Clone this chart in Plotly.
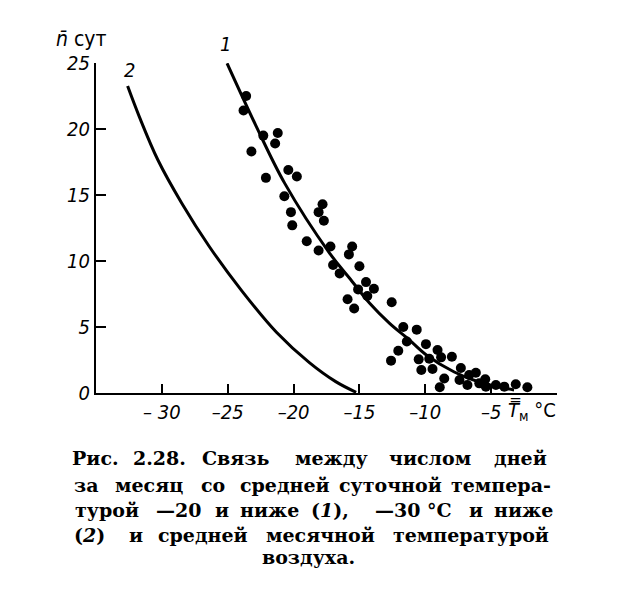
import plotly.graph_objects as go

# observed points (mean monthly temperature, days with daily mean <= -20)
obs_t = [-23.6, -23.8, -22.3, -21.2, -21.4, -23.2, -20.4, -19.75, -22.1, -20.7,
         -20.2, -20.1, -17.8, -18.1, -17.7, -19.0, -18.1, -17.2, -15.8, -15.55,
         -17.0, -16.5, -15.0, -14.5, -15.1, -15.9, -15.4, -13.9, -14.4, -12.55,
         -11.67, -10.65, -11.4, -9.95, -12.05, -12.6, -9.07, -10.5, -9.7, -8.8,
         -7.98, -10.3, -9.45, -8.56, -7.3, -7.4, -6.67, -6.16, -6.8, -5.9,
         -5.45, -4.64, -4.0, -3.13, -2.25, -8.9, -5.4]
obs_n = [22.5, 21.4, 19.5, 19.7, 18.9, 18.3, 16.9, 16.4, 16.3, 14.9,
         13.7, 12.7, 14.3, 13.7, 13.05, 11.5, 10.8, 11.1, 10.5, 11.1,
         9.7, 9.06, 9.6, 8.4, 7.85, 7.1, 6.4, 7.9, 7.35, 6.87,
         5.0, 4.8, 3.9, 3.7, 3.2, 2.45, 3.26, 2.55, 2.6, 2.7,
         2.75, 1.74, 1.82, 1.1, 1.9, 0.98, 1.36, 1.54, 0.6, 0.73,
         1.04, 0.6, 0.48, 0.66, 0.43, 0.43, 0.48]

# curve 1: -20 and below
c1_t = [-25.05, -22.88, -20.68, -17.27, -15.76, -14.24, -12.73, -11.21, -9.92, -7.8, -5.91, -4.39, -3.26]
c1_n = [24.98, 20.3, 15.9, 10.6, 8.71, 6.82, 5.3, 4.02, 2.88, 1.59, 0.83, 0.45, 0.23]

# curve 2: -30 and below
c2_t = [-32.6, -31.7, -30.3, -28.5, -26.4, -23.9, -21.3, -18.8, -16.8, -15.25]
c2_n = [23.25, 20.9, 17.65, 14.4, 11.1, 7.7, 4.6, 2.3, 0.86, 0.05]

x_ticks = [-30, -25, -20, -15, -10, -5, 0]
x_labels = ["– 30", "–25", "–20", "–15", "–10", "–5", ""]
y_ticks = [0, 5, 10, 15, 20, 25]

# caption, word by word (word, centre x in px, line centre y in px)
caption_words = [
    [("Рис.", 95), ("2.28.", 159), ("Связь", 235), ("между", 331), ("числом", 430), ("дней", 520)],
    [("за", 86), ("месяц", 149), ("со", 213), ("средней", 285), ("суточной", 390), ("темпера-", 501)],
    [("турой", 107), ("—20", 178), ("и", 222), ("ниже", 269), ("(<i>1</i>),", 330),
     ("—30 °C", 413), ("и", 476), ("ниже", 523)],
    [("(<i>2</i>)", 89), ("и", 136), ("средней", 203), ("месячной", 320), ("температурой", 471)],
    [("воздуха.", 308)],
]
caption_y = [458, 485, 510, 535, 557]

tick_family = "Liberation Sans Narrow, DejaVu Sans Condensed, Arial"
tick_font = dict(family=tick_family, size=20, color="black", style="italic")
cap_font = dict(family="DejaVu Serif", size=19, color="black", weight="bold")

fig = go.Figure()
fig.add_trace(go.Scatter(x=c2_t, y=c2_n, mode="lines", line_shape="spline",
                         line=dict(color="black", width=3)))
fig.add_trace(go.Scatter(x=c1_t, y=c1_n, mode="lines", line_shape="spline",
                         line=dict(color="black", width=3)))
fig.add_trace(go.Scatter(x=obs_t, y=obs_n, mode="markers",
                         marker=dict(color="black", size=10)))

fig.update_xaxes(range=[-35, 0], tickvals=x_ticks, ticktext=x_labels,
                 ticks="inside", ticklen=9, tickwidth=2, tickcolor="black",
                 showline=True, linecolor="black", linewidth=2,
                 showgrid=False, zeroline=False, tickfont=tick_font)
fig.update_yaxes(range=[0, 25], tickvals=y_ticks,
                 ticks="inside", ticklen=10, tickwidth=2, tickcolor="black",
                 showline=True, linecolor="black", linewidth=2,
                 showgrid=False, zeroline=False, tickfont=tick_font)


def px_x(px):
    return (px - 96) / 461


def px_y(py):
    return (393 - py) / 330


ann = [
    dict(x=px_x(225), y=px_y(44), text="1", font=tick_font),
    dict(x=px_x(129), y=px_y(70), text="2", font=tick_font),
    dict(x=px_x(54), y=px_y(39), xanchor="left",
         text="<i>n̄</i> сут", font=dict(family=tick_family, size=21, color="black")),
    dict(x=px_x(558), y=px_y(411), xanchor="right",
         text="<i>T̿</i><sub>м</sub> °C", font=dict(family=tick_family, size=20, color="black")),
]
for words, cy in zip(caption_words, caption_y):
    for w, cx in words:
        ann.append(dict(x=px_x(cx), y=px_y(cy), text=w, font=cap_font))
for a in ann:
    a.setdefault("showarrow", False)
    a.setdefault("xanchor", "center")
    a["xref"] = "paper"
    a["yref"] = "paper"
    a["yanchor"] = "middle"
    fig.add_annotation(**a)

fig.update_layout(width=610, height=575, showlegend=False,
                  paper_bgcolor="white", plot_bgcolor="white",
                  margin=dict(l=88, r=61, t=55, b=190))

fig.write_html("out.html")
